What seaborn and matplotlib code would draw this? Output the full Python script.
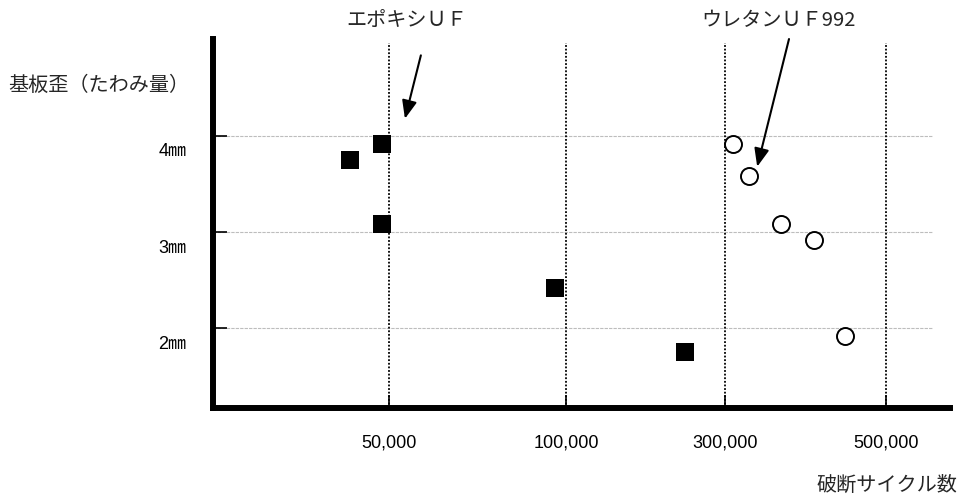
import numpy as np
import pandas as pd
import matplotlib
matplotlib.use("Agg")
import matplotlib.pyplot as plt
from matplotlib.transforms import ScaledTranslation
import seaborn as sns

# breaking cycles (x) vs board deflection in mm (y)
epoxy_cycles = [39000, 48000, 48000, 97000, 250000]
epoxy_mm = [3.75, 3.92, 3.08, 2.42, 1.75]

urethane_cycles = [310000, 330000, 370000, 410000, 449000]
urethane_mm = [3.92, 3.58, 3.08, 2.92, 1.92]

x_ticks = [50000, 100000, 300000, 500000]
x_tick_labels = ["50,000", "100,000", "300,000", "500,000"]
y_ticks = [2, 3, 4]
y_tick_labels = ["2㎜", "3㎜", "4㎜"]

epoxy_label = "エポキシＵＦ"
urethane_label = "ウレタンＵＦ992"
y_title = "基板歪（たわみ量）"
x_title = "破断サイクル数"

# the source axis is not linear: piecewise breaks between the labelled values
scale_knots = [0, 50000, 100000, 300000, 500000, 700000]
scale_pos = [0, 176, 353, 512, 673, 834]


def fwd(x):
    return np.interp(x, scale_knots, scale_pos)


def inv(p):
    return np.interp(p, scale_pos, scale_knots)


epoxy = pd.DataFrame({"cycles": epoxy_cycles, "mm": epoxy_mm})
urethane = pd.DataFrame({"cycles": urethane_cycles, "mm": urethane_mm})

sns.set_style("white")
plt.rcParams["font.family"] = ["Noto Sans CJK JP", "DejaVu Sans"]

fig = plt.figure(figsize=(9.62, 5.01), dpi=100)
ax = fig.add_axes([213 / 962, 93 / 501, 737 / 962, 369 / 501])
ax.set_xscale("function", functions=(fwd, inv))

for y in y_ticks:
    ax.axhline(y, xmax=0.977, color="#bdbdbd", lw=0.8, ls=(0, (3, 1)), zorder=0)
for x in x_ticks:
    ax.axvline(x, ymax=0.989, color="black", lw=1.3, ls=(0, (1, 1)), zorder=0)

sns.scatterplot(data=epoxy, x="cycles", y="mm", marker="s", s=170,
                color="black", edgecolor="black", linewidth=0, ax=ax, zorder=3)
sns.scatterplot(data=urethane, x="cycles", y="mm", marker="o", s=150,
                facecolor="white", edgecolor="black", linewidth=1.4, ax=ax, zorder=3)

ax.set_xlim(0, 579500)
ax.set_ylim(1.1667, 5.0104)
ax.set_xlabel("")
ax.set_ylabel("")

ax.set_xticks(x_ticks)
ax.set_xticklabels(x_tick_labels, fontsize=13, family=["Liberation Sans", "DejaVu Sans"])
ax.set_yticks(y_ticks)
ax.set_yticklabels(y_tick_labels, fontsize=13,
                   family=["Liberation Sans", "Noto Sans CJK JP", "DejaVu Sans"])
ax.minorticks_off()
ax.tick_params(axis="x", bottom=True, direction="in", length=9.5, width=1.2, pad=19,
               colors="black")
ax.tick_params(axis="y", left=True, direction="in", length=10, width=1.2, pad=19,
               colors="black")

offset = ScaledTranslation(0, -0.14, fig.dpi_scale_trans)
for lab in ax.get_yticklabels():
    lab.set_transform(lab.get_transform() + offset)

for side in ["top", "right"]:
    ax.spines[side].set_visible(False)
for side in ["left", "bottom"]:
    ax.spines[side].set_linewidth(4.3)
    ax.spines[side].set_color("black")
    ax.spines[side].set_capstyle("projecting")

arrow = dict(arrowstyle="-|>,head_length=1.1,head_width=0.45", color="black", lw=1.5,
             shrinkA=0, shrinkB=0)
ax.annotate("", xy=(54500, 4.18), xytext=(59000, 4.84), arrowprops=arrow,
            annotation_clip=False)
ax.annotate("", xy=(340000, 3.68), xytext=(379500, 5.01), arrowprops=arrow,
            annotation_clip=False)

fig.text(407, 481, epoxy_label, transform=None, fontsize=14.5, ha="center", va="center")
fig.text(778, 480, urethane_label, transform=None, fontsize=14.5, ha="center", va="center")
fig.text(8, 416, y_title, transform=None, fontsize=14.5, ha="left", va="center")
fig.text(957, 16, x_title, transform=None, fontsize=14.5, ha="right", va="center")

fig.savefig("out.png", dpi=100)
